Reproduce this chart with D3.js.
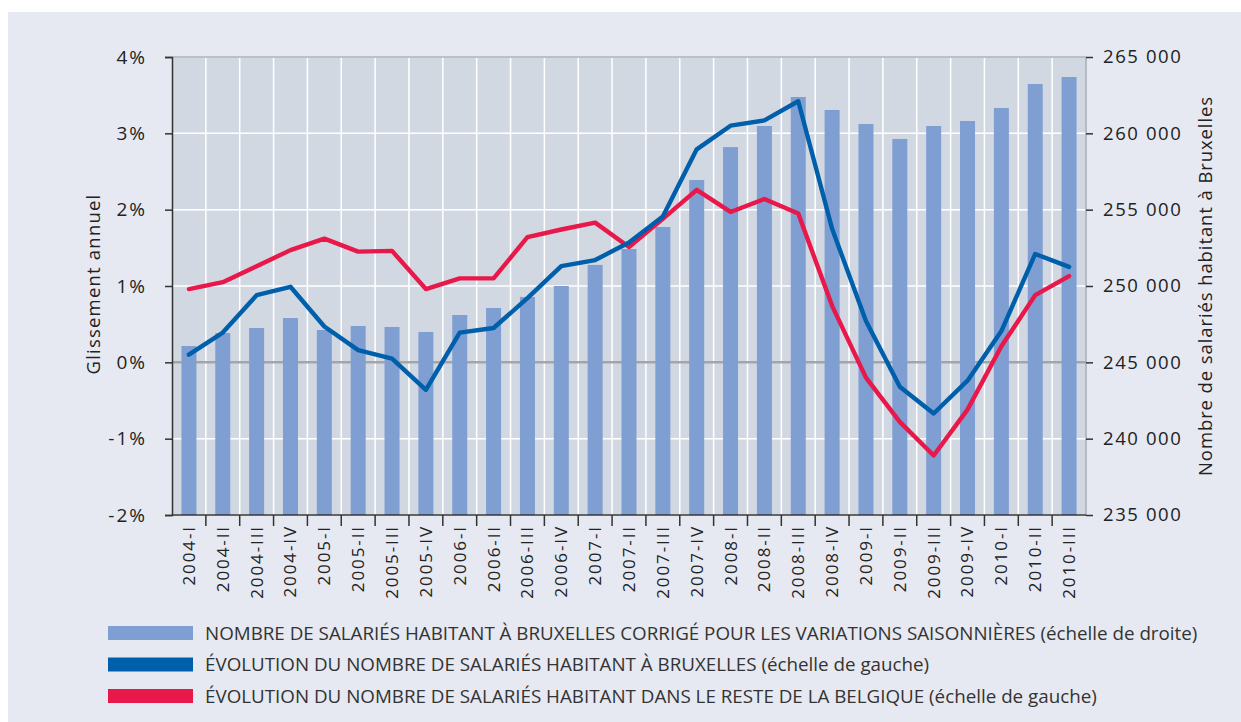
<!DOCTYPE html>
<html><head><meta charset="utf-8">
<script src="https://cdn.jsdelivr.net/npm/d3@7"></script>
<style>body{margin:0;background:#fff;}svg{display:block;}</style>
</head><body>
<svg id="c" width="1241" height="722"></svg>
<script>
const categories = ["2004-I","2004-II","2004-III","2004-IV","2005-I","2005-II","2005-III","2005-IV","2006-I","2006-II","2006-III","2006-IV","2007-I","2007-II","2007-III","2007-IV","2008-I","2008-II","2008-III","2008-IV","2009-I","2009-II","2009-III","2009-IV","2010-I","2010-II","2010-III"];
const salariesBxl = [246070,246920,247250,247900,247120,247380,247315,246990,248100,248560,249280,250000,251380,252420,253865,256940,259100,260480,262380,261530,260610,259630,260480,260810,261660,263230,263690];
const evolBxl = [0.10,0.39,0.88,0.99,0.47,0.16,0.05,-0.36,0.39,0.45,0.84,1.26,1.34,1.57,1.91,2.79,3.10,3.17,3.42,1.75,0.54,-0.32,-0.67,-0.24,0.41,1.42,1.25];
const evolReste = [0.96,1.05,1.26,1.47,1.62,1.45,1.46,0.96,1.10,1.10,1.64,1.74,1.83,1.51,1.88,2.26,1.97,2.14,1.95,0.74,-0.20,-0.78,-1.22,-0.62,0.21,0.88,1.13];
const leftTicks = [-2,-1,0,1,2,3,4];
const rightTicks = [235000,240000,245000,250000,255000,260000,265000];
const legendLabels = [
 "NOMBRE DE SALARIÉS HABITANT À BRUXELLES CORRIGÉ POUR LES VARIATIONS SAISONNIÈRES (échelle de droite)",
 "ÉVOLUTION DU NOMBRE DE SALARIÉS HABITANT À BRUXELLES (échelle de gauche)",
 "ÉVOLUTION DU NOMBRE DE SALARIÉS HABITANT DANS LE RESTE DE LA BELGIQUE (échelle de gauche)"];
const colors = {bar:"#7f9ed2", blue:"#005fab", red:"#e8184a"};

const svg = d3.select("#c");
svg.append("rect").attr("x",8).attr("y",12).attr("width",1233).attr("height",710).attr("fill","#e6e9f1");

const L=172, R=1086, T=57, B=515;
const x = d3.scaleBand().domain(categories).range([L,R]);
const yL = d3.scaleLinear().domain([-2,4]).range([B,T]);
const yR = d3.scaleLinear().domain([235000,265000]).range([B,T]);
const font = "'Open Sans', 'Noto Sans', sans-serif";

svg.append("rect").attr("x",L).attr("y",T).attr("width",R-L).attr("height",B-T).attr("fill","#d2d8e2");
// gridlines
const g = svg.append("g");
categories.slice(1).forEach(c=>{
  g.append("line").attr("x1",x(c)).attr("x2",x(c)).attr("y1",T).attr("y2",B).attr("stroke","#fff").attr("stroke-width",1.5);
});
leftTicks.forEach(t=>{
  g.append("line").attr("x1",L).attr("x2",R).attr("y1",yL(t)).attr("y2",yL(t))
   .attr("stroke", t===0?"#a3a5a8":"#fff").attr("stroke-width", t===0?2.5:1.5);
});
// plot border top/right
svg.append("line").attr("x1",L).attr("x2",R).attr("y1",T).attr("y2",T).attr("stroke","#a9adb5").attr("stroke-width",1.5);
svg.append("line").attr("x1",R).attr("x2",R).attr("y1",T).attr("y2",B).attr("stroke","#a9adb5").attr("stroke-width",1.5);

// bars
const bw = 15;
svg.append("g").selectAll("rect").data(categories).join("rect")
  .attr("x",(c)=>x(c)+x.bandwidth()/2-bw/2)
  .attr("y",(c,i)=>yR(salariesBxl[i]))
  .attr("width",bw)
  .attr("height",(c,i)=>B-yR(salariesBxl[i]))
  .attr("fill",colors.bar);

// lines
const line = d3.line().x((d,i)=>x(categories[i])+x.bandwidth()/2).y(d=>yL(d)).curve(d3.curveLinear);
svg.append("path").datum(evolReste).attr("d",line).attr("fill","none").attr("stroke",colors.red).attr("stroke-width",4.4).attr("stroke-linejoin","round").attr("stroke-linecap","round");
svg.append("path").datum(evolBxl).attr("d",line).attr("fill","none").attr("stroke",colors.blue).attr("stroke-width",4.4).attr("stroke-linejoin","round").attr("stroke-linecap","round");

// left axis
const la = svg.append("g").attr("transform",`translate(${L},0)`)
  .call(d3.axisLeft(yL).tickValues(leftTicks).tickFormat(d=>d+"%").tickSize(7).tickPadding(18));
la.select(".domain").attr("stroke","#333").attr("stroke-width",1.5);
la.selectAll(".tick line").attr("stroke","#333").attr("stroke-width",1.5);
la.selectAll("text").attr("font-family",font).attr("font-size",19).attr("letter-spacing",2).attr("fill","#222");

// right axis
const ra = svg.append("g").attr("transform",`translate(${R},0)`)
  .call(d3.axisRight(yR).tickValues(rightTicks).tickFormat(d=>d3.format(",")(d).replace(","," ")).tickSize(7).tickPadding(10));
ra.select(".domain").remove();
ra.selectAll(".tick line").attr("stroke","#333").attr("stroke-width",1.5);
ra.selectAll("text").attr("font-family",font).attr("font-size",18.5).attr("letter-spacing",1.6).attr("fill","#222");

// bottom axis
const ba = svg.append("g").attr("transform",`translate(0,${B})`)
  .call(d3.axisBottom(x).tickSize(0).tickPadding(0));
ba.select(".domain").remove();
svg.append("line").attr("x1",L).attr("x2",R).attr("y1",B).attr("y2",B).attr("stroke","#333").attr("stroke-width",1.5);
categories.slice(1).forEach(c=>{
  svg.append("line").attr("x1",x(c)).attr("x2",x(c)).attr("y1",B).attr("y2",B+11).attr("stroke","#333").attr("stroke-width",1.5);
});
ba.selectAll(".tick text")
  .attr("transform","rotate(-90)").attr("x",-10).attr("y",0).attr("dy","0.35em")
  .attr("text-anchor","end").attr("font-family",font).attr("font-size",17).attr("letter-spacing",1.9).attr("fill","#222");

// axis titles
svg.append("text").attr("transform",`translate(100,${(T+B)/2-2}) rotate(-90)`).attr("text-anchor","middle")
  .attr("font-family",font).attr("font-size",18.5).attr("letter-spacing",1.2).attr("fill","#222").text("Glissement annuel");
svg.append("text").attr("transform",`translate(1212,${(T+B)/2}) rotate(-90)`).attr("text-anchor","middle")
  .attr("font-family",font).attr("font-size",18.5).attr("letter-spacing",0.9).attr("fill","#222").text("Nombre de salariés habitant à Bruxelles");

// legend
const lg = svg.append("g");
const lcol=[colors.bar,colors.blue,colors.red];
legendLabels.forEach((t,i)=>{
  const yy = 633 + i*31.5;
  lg.append("rect").attr("x",108).attr("y",yy-7).attr("width",85).attr("height",14).attr("fill",lcol[i]);
  lg.append("text").attr("x",205).attr("y",yy).attr("dy","0.35em").attr("font-family",font).attr("font-size",18.8).attr("fill","#333").text(t);
});
</script>
</body></html>
